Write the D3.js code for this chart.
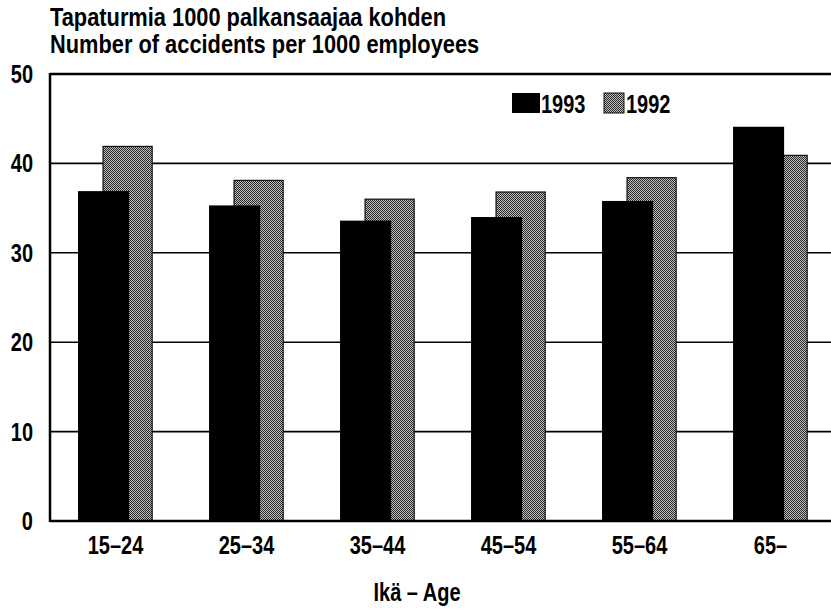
<!DOCTYPE html>
<html>
<head>
<meta charset="utf-8">
<script src="https://cdn.jsdelivr.net/npm/d3@7"></script>
<style>
  body { margin: 0; background: #fff; }
  svg text {
    font-family: "Liberation Sans", Arial, sans-serif;
    font-weight: bold;
    font-size: 25px;
    fill: #000;
  }
</style>
</head>
<body>
<div id="chart"></div>
<script>
const ages = ['15–24', '25–34', '35–44', '45–54', '55–64', '65–'];
const values1993 = [36.9, 35.3, 33.6, 34.0, 35.8, 44.1];
const values1992 = [41.9, 38.1, 36.0, 36.8, 38.4, 40.9];
const yTicks = [0, 10, 20, 30, 40, 50];
const titleLines = ['Tapaturmia 1000 palkansaajaa kohden', 'Number of accidents per 1000 employees'];
const xTitle = 'Ikä – Age';
const seriesNames = ['1993', '1992'];

const width = 831, height = 609;
const plot = {left: 50, top: 74, right: 836, bottom: 521};

const svg = d3.select('#chart').append('svg')
    .attr('width', width)
    .attr('height', height);

// horizontal squeeze to imitate the condensed face of the original
function label(x0, y0, str, anchor, squeeze) {
  return svg.append('text')
      .attr('transform', `translate(${x0},${y0}) scale(${squeeze || 0.8},1)`)
      .attr('text-anchor', anchor || 'start')
      .text(str);
}

// dithered grey fill like the printed original
const defs = svg.append('defs');
const pat = defs.append('pattern')
    .attr('id', 'dither')
    .attr('patternUnits', 'userSpaceOnUse')
    .attr('width', 4)
    .attr('height', 4);
pat.append('rect').attr('width', 4).attr('height', 4).attr('fill', '#bdbdbd');
[[0, 0], [2, 0], [1, 1], [3, 1], [0, 2], [2, 2], [3, 3], [1, 3]].forEach(([px, py]) => {
  pat.append('rect')
      .attr('x', px).attr('y', py)
      .attr('width', 1).attr('height', 1)
      .attr('fill', '#2a2a2a');
});

const x = d3.scaleBand()
    .domain(ages)
    .range([plot.left, plot.right]);

const y = d3.scaleLinear()
    .domain([0, 50])
    .range([plot.bottom, plot.top]);

const bw = x.bandwidth();

// gridlines
svg.append('g')
  .selectAll('line')
  .data(yTicks.filter(d => d > 0))
  .enter().append('line')
    .attr('x1', plot.left)
    .attr('x2', width)
    .attr('y1', d => y(d))
    .attr('y2', d => y(d))
    .attr('stroke', '#000')
    .attr('stroke-width', d => d === 50 ? 2.5 : 1.6);

// 1992 bars (behind)
svg.append('g')
  .selectAll('rect')
  .data(values1992)
  .enter().append('rect')
    .attr('x', (d, i) => x(ages[i]) + bw * 0.405)
    .attr('width', bw * 0.375)
    .attr('y', d => y(d))
    .attr('height', d => y(0) - y(d))
    .attr('fill', 'url(#dither)')
    .attr('stroke', '#111')
    .attr('stroke-width', 1.2);

// 1993 bars (front)
svg.append('g')
  .selectAll('rect')
  .data(values1993)
  .enter().append('rect')
    .attr('x', (d, i) => x(ages[i]) + bw * 0.214)
    .attr('width', bw * 0.39)
    .attr('y', d => y(d))
    .attr('height', d => y(0) - y(d))
    .attr('fill', '#000');

// axes frame
svg.append('line')
    .attr('x1', plot.left).attr('x2', plot.left)
    .attr('y1', plot.top - 1).attr('y2', plot.bottom + 1)
    .attr('stroke', '#000').attr('stroke-width', 2.5);
svg.append('line')
    .attr('x1', plot.left).attr('x2', width)
    .attr('y1', plot.bottom).attr('y2', plot.bottom)
    .attr('stroke', '#000').attr('stroke-width', 2.5);

// tick labels
yTicks.forEach(t => label(33, y(t) + 9, String(t), 'end'));
ages.forEach(a => label(x(a) + bw / 2, 554, a, 'middle'));

label(417, 601, xTitle, 'middle');
titleLines.forEach((t, i) => label(50, 26 + i * 27, t, 'start', 0.873));

// legend
svg.append('rect')
    .attr('x', 512).attr('y', 93)
    .attr('width', 28).attr('height', 20)
    .attr('fill', '#000');
label(541, 113, seriesNames[0]);
svg.append('rect')
    .attr('x', 604).attr('y', 93)
    .attr('width', 20).attr('height', 20)
    .attr('fill', 'url(#dither)')
    .attr('stroke', '#111');
label(626, 113, seriesNames[1]);
</script>
</body>
</html>
